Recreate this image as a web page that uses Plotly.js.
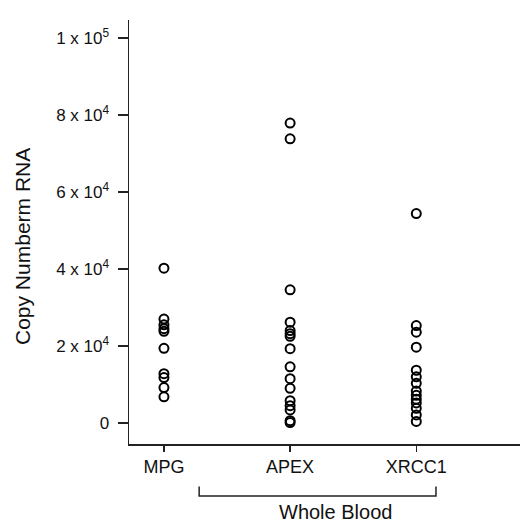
<!DOCTYPE html>
<html>
<head>
<meta charset="utf-8">
<script src="https://cdn.plot.ly/plotly-3.0.1.min.js"></script>
<style>html,body{margin:0;padding:0;background:#fff;}#chart{width:520px;height:523px;}</style>
</head>
<body>
<div id="chart"></div>
<script>
const categories = ["MPG", "APEX", "XRCC1"];
const mpgValues = [40200, 27000, 25500, 24500, 23800, 19400, 12800, 11800, 9200, 6800];
const apexValues = [77900, 73800, 34600, 26200, 24000, 23200, 22500, 19300, 14600, 11500, 9000, 5800, 4500, 3400, 600, 100];
const xrcc1Values = [54400, 25300, 23600, 19700, 13700, 12000, 10300, 8300, 7200, 6200, 5200, 3800, 2100, 400];
const yTickVals = [0, 20000, 40000, 60000, 80000, 100000];
const yTickText = ["0", "2 x 10<sup>4</sup>", "4 x 10<sup>4</sup>", "6 x 10<sup>4</sup>", "8 x 10<sup>4</sup>", "1 x 10<sup>5</sup>"];
const groupLabel = "Whole Blood";
const yTitle = "Copy Numberm RNA";

const seriesValues = [mpgValues, apexValues, xrcc1Values];
const traces = seriesValues.map((vals, i) => ({
  type: "scatter",
  mode: "markers",
  x: vals.map(() => categories[i]),
  y: vals,
  marker: {symbol: "circle-open", size: 9, color: "#000", line: {width: 2, color: "#000"}},
  showlegend: false,
  hoverinfo: "y"
}));

const font = "Liberation Sans, Arial, Helvetica, sans-serif";
const layout = {
  width: 520, height: 523,
  margin: {l: 129, r: 0, t: 20, b: 79},
  paper_bgcolor: "#fff", plot_bgcolor: "#fff",
  font: {family: font, color: "#111"},
  xaxis: {
    type: "category",
    range: [-0.277, 2.822],
    showgrid: false, zeroline: false,
    showline: true, linecolor: "#222", linewidth: 1.5,
    ticks: "outside", ticklen: 6, tickwidth: 1.5, tickcolor: "#222",
    tickfont: {size: 18, family: font, color: "#111"},
    fixedrange: true
  },
  yaxis: {
    range: [-5455, 104675],
    showgrid: false, zeroline: false,
    showline: true, linecolor: "#222", linewidth: 1.5,
    ticks: "outside", ticklen: 10, tickwidth: 1.5, tickcolor: "#222",
    ticklabelstandoff: 5,
    tickvals: yTickVals, ticktext: yTickText,
    tickfont: {size: 17, family: font, color: "#111"},
    fixedrange: true
  },
  shapes: [{
    type: "path",
    xref: "x", yref: "paper",
    path: "M 0.279,-0.1 L 0.279,-0.1224 L 2.156,-0.1224 L 2.156,-0.1",
    line: {color: "#222", width: 1.5}
  }],
  annotations: [
    {text: groupLabel, xref: "x", yref: "paper", x: 1.362, y: -0.161, yanchor: "middle", xanchor: "center",
     showarrow: false, font: {size: 20, family: font, color: "#111"}},
    {text: yTitle, xref: "paper", yref: "paper", x: (22 - 129) / 391, y: (444 - 247) / 424, textangle: -90,
     xanchor: "center", yanchor: "middle", showarrow: false, font: {size: 21, family: font, color: "#111"}}
  ]
};

Plotly.newPlot("chart", traces, layout, {staticPlot: true, displayModeBar: false});
</script>
</body>
</html>
